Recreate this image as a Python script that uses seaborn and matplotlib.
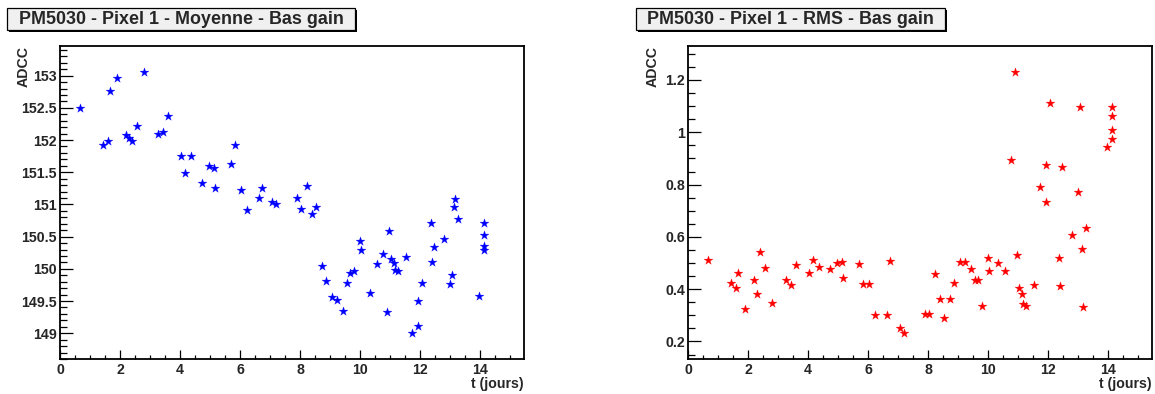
import numpy as np
import pandas as pd
import matplotlib
matplotlib.use('Agg')
import matplotlib.pyplot as plt
from matplotlib.ticker import MultipleLocator
from matplotlib.patches import Rectangle
import seaborn as sns

sns.set_style('white')
plt.rcParams['font.family'] = ['Liberation Sans', 'DejaVu Sans']
plt.rcParams['font.weight'] = 'bold'

# temps (jours), commun aux deux graphes
t_jours = [0.68, 1.43, 1.61, 1.66, 1.90, 2.20, 2.29, 2.39, 2.58, 2.80,
           3.26, 3.43, 3.60, 4.02, 4.18, 4.36, 4.73, 4.96, 5.12, 5.18,
           5.70, 5.85, 6.05, 6.24, 6.62, 6.75, 7.08, 7.21, 7.91, 8.05,
           8.22, 8.41, 8.52, 8.72, 8.88, 9.06, 9.25, 9.44, 9.58, 9.67,
           9.79, 10.00, 10.05, 10.35, 10.58, 10.78, 10.90, 10.96, 11.05, 11.12,
           11.18, 11.26, 11.52, 11.75, 11.92, 11.95, 12.06, 12.36, 12.41, 12.48,
           12.81, 13.01, 13.07, 13.13, 13.18, 13.28, 13.97, 14.15, 14.15, 14.15,
           14.15]

# moyenne (ADCC)
moyenne = [152.49, 151.92, 151.99, 152.76, 152.97, 152.08, 152.03, 151.98, 152.22, 153.05,
           152.09, 152.12, 152.37, 151.75, 151.49, 151.75, 151.34, 151.60, 151.57, 151.26,
           151.63, 151.92, 151.23, 150.92, 151.10, 151.26, 151.04, 151.01, 151.10, 150.93,
           151.28, 150.85, 150.96, 150.05, 149.81, 149.56, 149.51, 149.34, 149.78, 149.93,
           149.97, 150.43, 150.29, 149.62, 150.08, 150.23, 149.33, 150.58, 150.16, 150.09,
           149.98, 149.96, 150.19, 149.00, 149.11, 149.50, 149.78, 150.71, 150.11, 150.34,
           150.46, 149.77, 149.90, 150.96, 151.09, 150.77, 149.58, 150.71, 150.52, 150.36,
           150.30]

# RMS (ADCC)
rms = [0.511, 0.425, 0.406, 0.460, 0.323, 0.435, 0.380, 0.542, 0.480, 0.349,
       0.435, 0.415, 0.494, 0.463, 0.510, 0.486, 0.476, 0.502, 0.505, 0.441,
       0.495, 0.421, 0.421, 0.303, 0.300, 0.507, 0.252, 0.234, 0.307, 0.307,
       0.459, 0.364, 0.288, 0.363, 0.425, 0.505, 0.504, 0.476, 0.435, 0.435,
       0.337, 0.520, 0.471, 0.501, 0.469, 0.893, 1.229, 0.532, 0.406, 0.382,
       0.345, 0.335, 0.416, 0.792, 0.875, 0.735, 1.112, 0.518, 0.411, 0.866,
       0.609, 0.772, 1.095, 0.553, 0.332, 0.633, 0.942, 1.097, 1.064, 1.008,
       0.974]

df = pd.DataFrame({'t': t_jours, 'moyenne': moyenne, 'rms': rms})

W, H = 1155, 394
fig = plt.figure(figsize=(W / 100, H / 100), dpi=100)


def px_box(x0, y0, x1, y1):
    # coordonnées pixel (origine en haut à gauche) -> fraction de figure
    return [x0 / W, 1 - y1 / H, (x1 - x0) / W, (y1 - y0) / H]


def style_axes(ax, ymajor, yminor, ylim):
    ax.set_xlim(0, 15.47)
    ax.set_ylim(*ylim)
    ax.xaxis.set_major_locator(MultipleLocator(2))
    ax.xaxis.set_minor_locator(MultipleLocator(0.5))
    ax.yaxis.set_major_locator(MultipleLocator(ymajor))
    ax.yaxis.set_minor_locator(MultipleLocator(yminor))
    ax.tick_params(which='both', bottom=True, left=True, top=False, right=False)
    ax.tick_params(axis='y', which='major', direction='in', length=9.6, width=0.9,
                   labelsize=10.2, pad=2.2, color='black')
    ax.tick_params(axis='y', which='minor', direction='in', length=4.8, width=0.9, color='black')
    ax.tick_params(axis='x', which='major', direction='in', length=6.5, width=0.9,
                   labelsize=10.2, pad=3.0, color='black')
    ax.tick_params(axis='x', which='minor', direction='in', length=3.2, width=0.9, color='black')
    for lab in ax.get_xticklabels() + ax.get_yticklabels():
        lab.set_fontweight('bold')
    for sp in ax.spines.values():
        sp.set_color('black')
        sp.set_linewidth(1.3)
    ax.set_xlabel('')
    ax.set_ylabel('')


def title_box(x0, x1, text):
    y0, y1 = 8.3, 30.0
    shadow = Rectangle(((x0 + 2) / W, 1 - (y1 + 2) / H), (x1 - x0) / W, (y1 - y0) / H,
                       transform=fig.transFigure, facecolor='black', edgecolor='none', zorder=1)
    box = Rectangle((x0 / W, 1 - y1 / H), (x1 - x0) / W, (y1 - y0) / H,
                    transform=fig.transFigure, facecolor='#f0f0f0', edgecolor='black',
                    linewidth=0.9, zorder=2)
    fig.patches.extend([shadow, box])
    fig.text((x0 + x1) / 2 / W, 1 - (y0 + y1) / 2 / H, text, ha='center', va='center',
             fontsize=12.9, fontweight='bold', zorder=3)


# --- graphe de gauche : moyenne ---
ax1 = fig.add_axes(px_box(60, 46, 524, 359))
sns.scatterplot(data=df, x='t', y='moyenne', ax=ax1, marker='*', color='#0000ff',
                s=45, linewidth=0.2, edgecolor='#0000ff')
style_axes(ax1, 0.5, 0.1, (148.6, 153.46))
ax1.set_yticks([149, 149.5, 150, 150.5, 151, 151.5, 152, 152.5, 153])
ax1.set_yticklabels(['149', '149.5', '150', '150.5', '151', '151.5', '152', '152.5', '153'],
                    fontweight='bold')
title_box(7.3, 355, 'PM5030 - Pixel 1 - Moyenne - Bas gain')
fig.text(23.5 / W, 1 - 46 / H, 'ADCC', rotation=90, ha='center', va='top',
         fontsize=10.2, fontweight='bold')
fig.text(524 / W, 1 - 388 / H, 't (jours)', ha='right', va='baseline',
         fontsize=10.2, fontweight='bold')

# --- graphe de droite : RMS ---
ax2 = fig.add_axes(px_box(688, 46, 1152, 359))
sns.scatterplot(data=df, x='t', y='rms', ax=ax2, marker='*', color='#ff0000',
                s=45, linewidth=0.2, edgecolor='#ff0000')
style_axes(ax2, 0.2, 0.05, (0.133, 1.33))
ax2.set_yticks([0.2, 0.4, 0.6, 0.8, 1.0, 1.2])
ax2.set_yticklabels(['0.2', '0.4', '0.6', '0.8', '1', '1.2'], fontweight='bold')
title_box(636, 945, 'PM5030 - Pixel 1 - RMS - Bas gain')
fig.text(652.5 / W, 1 - 46 / H, 'ADCC', rotation=90, ha='center', va='top',
         fontsize=10.2, fontweight='bold')
fig.text(1152 / W, 1 - 388 / H, 't (jours)', ha='right', va='baseline',
         fontsize=10.2, fontweight='bold')

fig.savefig('out.png', dpi=100)
